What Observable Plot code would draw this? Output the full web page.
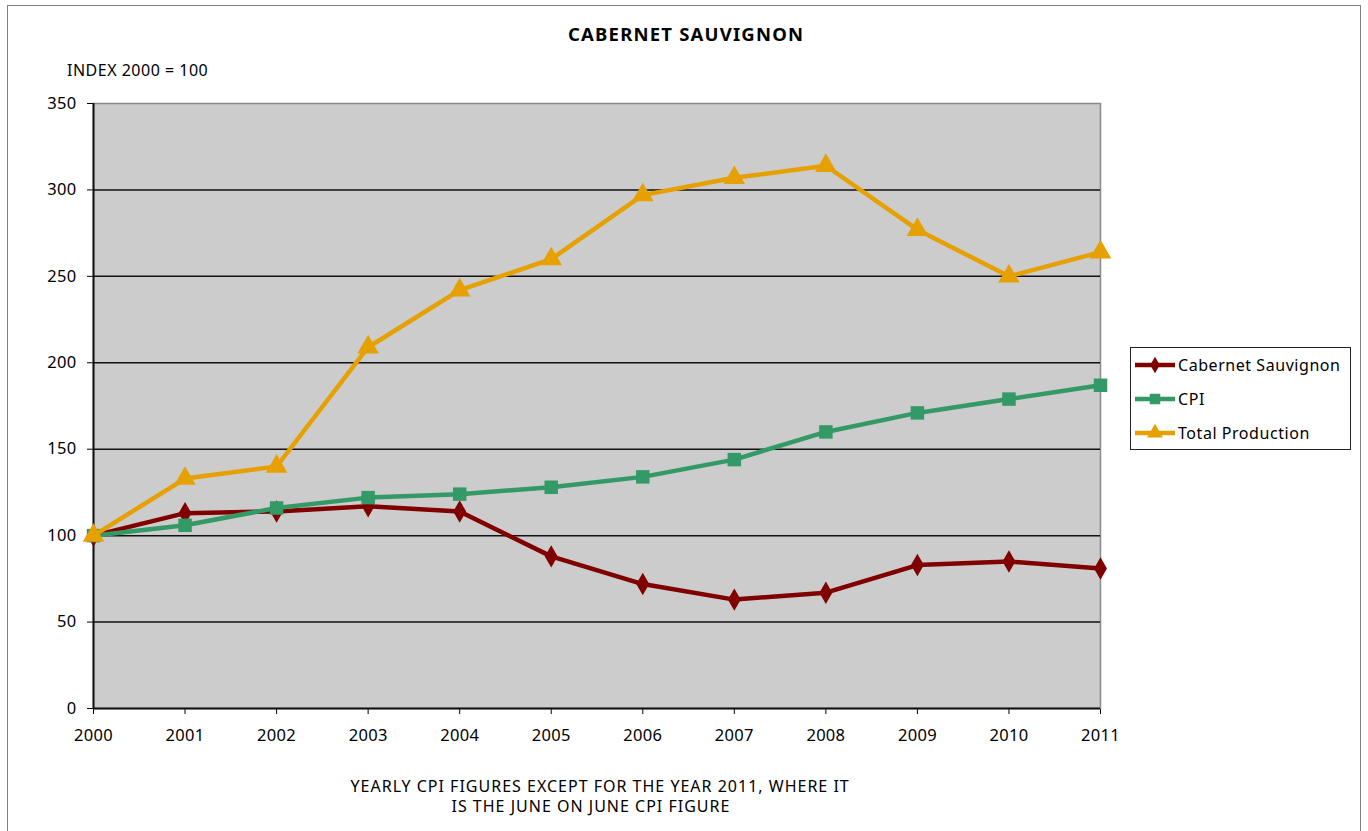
<!DOCTYPE html>
<html>
<head>
<meta charset="utf-8">
<script src="https://cdn.jsdelivr.net/npm/d3@7"></script>
<script src="https://cdn.jsdelivr.net/npm/@observablehq/plot@0.6"></script>
<style>
  html, body { margin: 0; padding: 0; background: #fff; }
  body { width: 1368px; height: 831px; position: relative; overflow: hidden; font-family: "Noto Sans", "DejaVu Sans", sans-serif; color: #000; }
  .abs { position: absolute; white-space: nowrap; line-height: 1; }
  #frame { position: absolute; left: 7px; top: 5px; width: 1354px; height: 840px; border: 1.5px solid #808080; box-sizing: border-box; }
  #chart { position: absolute; left: 0; top: 0; }
  #title { top: 25px; font-weight: bold; font-size: 18.5px; letter-spacing: 1.2px; }
  #subtitle { left: 67px; top: 62px; font-size: 16px; letter-spacing: 0.5px; }
  .cap { font-size: 16px; letter-spacing: 1px; }
  #legend { position: absolute; left: 1130px; top: 347px; width: 221px; height: 103px; border: 1.5px solid #222; background: #fff; box-sizing: border-box; }
  .lrow { position: absolute; left: 3px; height: 20px; display: flex; align-items: center; font-size: 16px; letter-spacing: 0.55px; }
  .lrow svg { margin-right: 2px; }
</style>
</head>
<body>
<div id="frame"></div>
<div id="chart"></div>
<div id="title" class="abs">CABERNET SAUVIGNON</div>
<div id="subtitle" class="abs">INDEX 2000 = 100</div>
<div id="cap1" class="abs cap">YEARLY CPI FIGURES EXCEPT FOR THE YEAR 2011, WHERE IT</div>
<div id="cap2" class="abs cap">IS THE JUNE ON JUNE CPI FIGURE</div>
<div id="legend"></div>
<script>
// ---- data ----
const years = [2000, 2001, 2002, 2003, 2004, 2005, 2006, 2007, 2008, 2009, 2010, 2011];
const cabernet = [100, 113, 114, 117, 114, 88, 72, 63, 67, 83, 85, 81];
const cpi = [100, 106, 116, 122, 124, 128, 134, 144, 160, 171, 179, 187];
const totalProduction = [100, 133, 140, 209, 242, 260, 297, 307, 314, 277, 250, 264];
const seriesNames = ["Cabernet Sauvignon", "CPI", "Total Production"];
const seriesColors = ["#800000", "#339966", "#E6A000"];
const seriesSymbols = ["diamond", "square", "triangle"];
const yTicks = [0, 50, 100, 150, 200, 250, 300, 350];

const seriesValues = [cabernet, cpi, totalProduction];
const rows = [];
seriesNames.forEach((name, i) => {
  years.forEach((yr, j) => rows.push({series: name, year: yr, value: seriesValues[i][j]}));
});

const marks = [
  Plot.frame({fill: "#cccccc", stroke: "#8a8a8a", strokeWidth: 1.5}),
  Plot.ruleY(yTicks.filter(d => d > 0 && d < 350), {stroke: "#111", strokeWidth: 1.5}),
  Plot.ruleY([0], {stroke: "#111", strokeWidth: 2}),
  Plot.ruleX([2000], {stroke: "#111", strokeWidth: 2})
];
seriesNames.forEach((name, i) => {
  const data = rows.filter(r => r.series === name);
  marks.push(Plot.line(data, {x: "year", y: "value", stroke: seriesColors[i], strokeWidth: 4.5, strokeLinejoin: "round"}));
  marks.push(Plot.dot(data, {x: "year", y: "value", fill: seriesColors[i], stroke: "none",
    symbol: seriesSymbols[i], r: i === 0 ? 6.8 : (i === 1 ? 7.6 : 8)}));
});

const plot = Plot.plot({
  width: 1368,
  height: 831,
  marginLeft: 93,
  marginRight: 268,
  marginTop: 103,
  marginBottom: 123,
  style: {fontFamily: "'Noto Sans', 'DejaVu Sans', sans-serif", fontSize: "16.5px", letterSpacing: "0.3px", color: "#000", background: "transparent", overflow: "visible"},
  x: {domain: [2000, 2011], ticks: years, tickFormat: d => String(d), tickSize: 6, tickPadding: 15, label: null, line: false},
  y: {domain: [0, 350], ticks: yTicks, tickSize: 6, tickPadding: 11, label: null},
  marks
});
document.getElementById("chart").appendChild(plot);

// text positioning (centered)
function centerAt(id, cx, top) {
  const el = document.getElementById(id);
  el.style.top = top + "px";
  el.style.left = (cx - el.offsetWidth / 2) + "px";
}
centerAt("title", 686, 25);
centerAt("cap1", 600, 778);
centerAt("cap2", 591, 798);

// legend
const legend = document.getElementById("legend");
const sym = {
  diamond: d3.symbol(d3.symbolDiamond, 80)(),
  square: d3.symbol(d3.symbolSquare, 110)(),
  triangle: d3.symbol(d3.symbolTriangle, 110)()
};
seriesNames.forEach((name, i) => {
  const row = document.createElement("div");
  row.className = "lrow";
  row.style.top = (7 + i * 34) + "px";
  row.innerHTML = `<svg width="42" height="20"><line x1="1" x2="41" y1="10" y2="10" stroke="${seriesColors[i]}" stroke-width="4.5"/><path transform="translate(21,10)" d="${sym[seriesSymbols[i]]}" fill="${seriesColors[i]}"/></svg><span>${name}</span>`;
  legend.appendChild(row);
});
</script>
</body>
</html>
